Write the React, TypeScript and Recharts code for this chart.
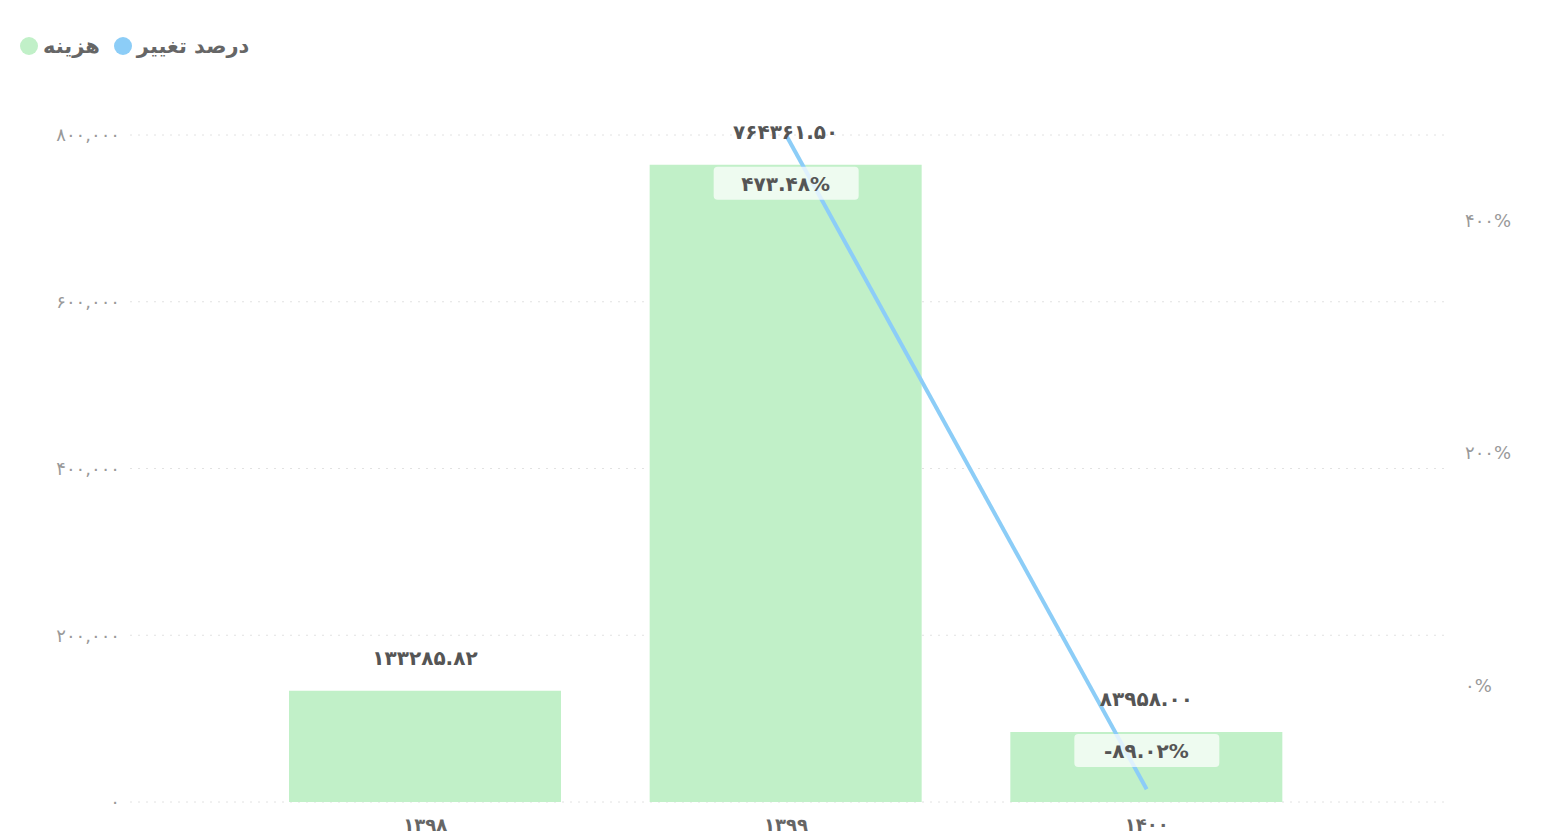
import React from "react";
import {
  ComposedChart, Bar, Line, XAxis, YAxis, CartesianGrid, LabelList,
} from "recharts";

const years = ["1398", "1399", "1400"];
const cost = [133285.82, 764361.5, 83958.0];
const change: (number | null)[] = [null, 473.48, -89.02];
const leftTicks = [0, 200000, 400000, 600000, 800000];
const rightTicks = [0, 200, 400];

const data = years.map((y, i) => ({ year: y, cost: cost[i], change: change[i] }));

const FONT = "'DejaVu Sans', sans-serif";
const fa = (s: string) => s.replace(/[0-9]/g, (d) => "۰۱۲۳۴۵۶۷۸۹"[+d]);
const withComma = (n: number) => String(n).replace(/\B(?=(\d{3})+(?!\d))/g, ",");

const PercentLabel = (props: any) => {
  const { x, y, width, value } = props;
  if (value === null || value === undefined) return null;
  const cx = x + width / 2;
  return (
    <g>
      <rect x={cx - 72} y={y + 2} width={145} height={33} rx={4} fill="#ffffff" fillOpacity={0.72} />
      <text x={cx} y={y + 26} textAnchor="middle" fill="#555" fontSize={20} fontWeight="bold" fontFamily={FONT} letterSpacing={1}>
        {fa(value.toFixed(2)) + "%"}
      </text>
    </g>
  );
};

function Legend() {
  const item = (color: string, label: string) => (
    <span style={{ display: "inline-flex", alignItems: "center", marginRight: 14 }}>
      <span style={{ width: 18, height: 18, borderRadius: 9, background: color, display: "inline-block", marginRight: 5 }} />
      <span style={{ color: "#666", fontSize: 21, fontWeight: "bold" }}>{label}</span>
    </span>
  );
  return (
    <div style={{ position: "absolute", left: 12, top: 26, fontFamily: FONT, display: "flex" }}>
      {item("#c1f0c8", "هزینه")}
      {item("#8ccdf7", "درصد تغییر")}
    </div>
  );
}

export default function App() {
  return (
    <div style={{ position: "relative", width: 1525, height: 828, background: "#fff" }}>
      <Legend />
      <ComposedChart width={1525} height={828} data={data} margin={{ top: 127, right: 18, left: 22, bottom: 4 }}>
        <CartesianGrid yAxisId="left" vertical={false} stroke="#e2e2e2" strokeDasharray="2 6" />
        <XAxis
          dataKey="year"
          axisLine={false}
          tickLine={false}
          padding={{ left: 115, right: 118 }}
          tickMargin={10}
          tickFormatter={(v) => fa(v)}
          tick={{ fill: "#666", fontSize: 18, fontWeight: "bold", fontFamily: FONT }}
        />
        <YAxis
          yAxisId="left"
          width={100}
          domain={[0, 800000]}
          ticks={leftTicks}
          axisLine={false}
          tickLine={false}
          tickMargin={4}
          tickFormatter={(v) => fa(withComma(v))}
          tick={{ fill: "#999", fontSize: 18, fontFamily: FONT, letterSpacing: 2 }}
        />
        <YAxis
          yAxisId="right"
          orientation="right"
          width={70}
          domain={[-100, "dataMax"]}
          ticks={rightTicks}
          axisLine={false}
          tickLine={false}
          tickMargin={14}
          tickFormatter={(v) => fa(String(v)) + "%"}
          tick={{ fill: "#999", fontSize: 18, fontFamily: FONT, letterSpacing: 2 }}
        />
        <Line
          yAxisId="right"
          dataKey="change"
          type="linear"
          stroke="#8ccdf7"
          strokeWidth={4}
          dot={false}
          isAnimationActive={false}
        />
        <Bar yAxisId="left" dataKey="cost" fill="#c1f0c8" barSize={272} isAnimationActive={false}>
          <LabelList
            dataKey="cost"
            position="top"
            offset={26}
            formatter={(v: any) => fa(Number(v).toFixed(2))}
            style={{ fill: "#555", fontSize: 20, fontWeight: "bold", fontFamily: FONT, letterSpacing: 1 }}
          />
          <LabelList dataKey="change" content={PercentLabel} />
        </Bar>
      </ComposedChart>
    </div>
  );
}
